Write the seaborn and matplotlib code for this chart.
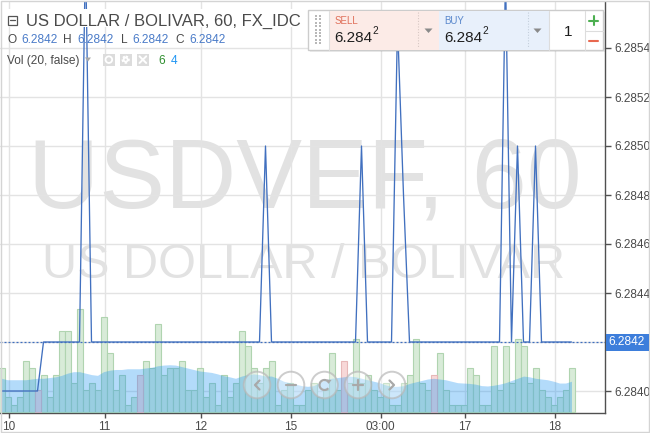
import matplotlib
matplotlib.use("Agg")
import matplotlib.pyplot as plt
import numpy as np
import pandas as pd
import seaborn as sns
from matplotlib.patches import Rectangle, Circle, Polygon, Arc

# ---------------- data ----------------
bar_index = list(range(96))

close = [
    6.2840, 6.2840, 6.2840, 6.2840, 6.2840, 6.2840, 6.2840, 6.2842, 6.2842, 6.2842, 6.2842, 6.2842,
    6.2842, 6.2842, 6.2858, 6.2842, 6.2842, 6.2842, 6.2842, 6.2842, 6.2842, 6.2842, 6.2842, 6.2842,
    6.2842, 6.2842, 6.2842, 6.2842, 6.2842, 6.2842, 6.2842, 6.2842, 6.2842, 6.2842, 6.2842, 6.2842,
    6.2842, 6.2842, 6.2842, 6.2842, 6.2842, 6.2842, 6.2842, 6.2842, 6.2850, 6.2842, 6.2842, 6.2842,
    6.2842, 6.2842, 6.2842, 6.2842, 6.2842, 6.2842, 6.2842, 6.2842, 6.2842, 6.2842, 6.2842, 6.2842,
    6.2850, 6.2842, 6.2842, 6.2842, 6.2842, 6.2842, 6.2855, 6.2848, 6.2842, 6.2842, 6.2842, 6.2842,
    6.2842, 6.2842, 6.2842, 6.2842, 6.2842, 6.2842, 6.2842, 6.2842, 6.2842, 6.2842, 6.2842, 6.2842,
    6.2857, 6.2842, 6.2850, 6.2842, 6.2842, 6.2850, 6.2842, 6.2842, 6.2842, 6.2842, 6.2842, 6.2842,
]

volume = [
    6, 2, 1, 2, 7, 6, 3, 5, 2, 5, 11, 11,
    4, 14, 3, 4, 3, 13, 8, 3, 5, 1, 2, 5,
    7, 6, 12, 5, 6, 6, 7, 3, 3, 6, 2, 4,
    1, 5, 2, 4, 11, 9, 6, 4, 6, 7, 1, 3,
    4, 1, 1, 3, 4, 2, 3, 8, 3, 7, 4, 10,
    4, 5, 3, 2, 4, 1, 1, 4, 5, 10, 4, 3,
    5, 8, 3, 1, 1, 1, 6, 5, 1, 1, 9, 3,
    9, 4, 10, 9, 4, 6, 3, 2, 1, 2, 3, 6,
]
down_bars = [6, 23, 57, 72]

vol_ma = [
    4.6, 4.4, 4.4, 4.4, 4.4, 4.5, 4.6, 4.6, 4.7, 4.8, 5.0, 5.3,
    5.5, 5.5, 5.3, 5.1, 5.0, 5.5, 5.7, 5.8, 5.8, 5.9, 5.9, 5.9,
    6.0, 6.1, 6.3, 6.4, 6.45, 6.4, 6.2, 6.0, 5.8, 5.6, 5.5, 5.4,
    5.2, 4.95, 4.8, 4.6, 4.9, 5.1, 5.2, 5.1, 4.9, 4.9, 4.6, 4.2,
    4.0, 3.8, 3.6, 3.5, 3.6, 4.0, 4.4, 4.6, 4.7, 4.8, 4.9, 4.8,
    4.6, 4.4, 4.2, 4.0, 3.7, 3.5, 3.5, 3.6, 3.9, 4.1, 4.3, 4.5,
    4.6, 4.5, 4.4, 4.2, 4.0, 3.95, 3.9, 3.8, 3.6, 3.55, 3.65, 3.8,
    4.0, 4.3, 4.6, 4.9, 4.8, 4.6, 4.5, 4.4, 4.2, 3.95, 3.95, 4.2,
]

x_tick_pos = [1, 17, 33, 48, 63, 77, 92]
x_tick_labels = ["10", "11", "12", "15", "03:00", "17", "18"]
y_ticks = [6.2840, 6.2842, 6.2844, 6.2846, 6.2848, 6.2850, 6.2852, 6.2854]
last_price = 6.2842
last_volume = 6
last_vol_ma = 4
symbol_title = "US DOLLAR / BOLIVAR, 60, FX_IDC"
watermark_1 = "USDVEF, 60"
watermark_2 = "US DOLLAR / BOLIVAR"
sell_price = "6.284"
buy_price = "6.284"
pip_digit = "2"
quantity = "1"

# ---------------- style ----------------
sns.set_theme(style="white")
plt.rcParams["font.family"] = ["Liberation Sans", "DejaVu Sans"]

W, H = 650, 433
fig = plt.figure(figsize=(W / 100, H / 100), dpi=100)
fig.patch.set_facecolor("white")


def fig_rect(x0, y0, x1, y1):
    return [x0 / W, 1 - y1 / H, (x1 - x0) / W, (y1 - y0) / H]


plot_rect = fig_rect(0, 2, 605, 413)
XL = ((0 - 1.5) / 6, (605 - 1.5) / 6)
YL = (6.2842 - 71 / 245000, 6.2842 + 340 / 245000)
AXC = "#505050"
TXT = "#4a4a4a"

# ---------- background axes: grid, ticks, watermark ----------
ax = fig.add_axes(plot_rect)
ax.set_facecolor("white")
ax.set_xlim(XL)
ax.set_ylim(YL)
ax.set_xticks([p + 1 / 6 for p in x_tick_pos])
ax.set_xticklabels(x_tick_labels)
ax.set_yticks(y_ticks)
# the last-price tick is labelled by the blue price box instead
ax.set_yticklabels(["" if abs(v - last_price) < 1e-9 else f"{v:.4f}" for v in y_ticks])
ax.yaxis.tick_right()
ax.grid(True, color="#e3e3e3", lw=1)
ax.set_axisbelow(True)
for s in ["left", "top"]:
    ax.spines[s].set_visible(False)
for s in ["right", "bottom"]:
    ax.spines[s].set_color(AXC)
    ax.spines[s].set_linewidth(1)
ax.tick_params(axis="y", right=True, left=False, length=4, width=1, color=AXC,
               labelsize=8.5, labelcolor=TXT, pad=2.5)
ax.tick_params(axis="x", bottom=True, length=3.5, width=1, color=AXC,
               labelsize=8.5, labelcolor=TXT, pad=2)

ax.text(305 / W, 1 - 208 / H, watermark_1, transform=fig.transFigure, ha="center",
        va="baseline", fontsize=71, color="#e2e2e2", zorder=0)
ax.text(304 / W, 1 - 278 / H, watermark_2, transform=fig.transFigure, ha="center",
        va="baseline", fontsize=35, color="#e2e2e2", zorder=0)

# ---------- volume axes ----------
axv = fig.add_axes(plot_rect)
axv.patch.set_alpha(0)
df = pd.DataFrame({
    "bar": bar_index,
    "volume": volume,
    "dir": ["down" if i in down_bars else "up" for i in bar_index],
})
sns.barplot(data=df, x="bar", y="volume", hue="dir",
            palette={"up": "#d8ebd8", "down": "#f7d8d8"},
            native_scale=True, dodge=False, width=1.0, saturation=1,
            errorbar=None, legend=False, linewidth=0.8, edgecolor="#b3d6b3",
            ax=axv, zorder=2)
for p in axv.patches:
    r, g, b, a = p.get_facecolor()
    p.set_edgecolor("#e6b8b8" if r > g else "#b0d4b0")
axv.fill_between(bar_index, 0, vol_ma, color="#2196f3", alpha=0.34, lw=0, zorder=3)
axv.set_xlim(XL)
axv.set_ylim(-1 / 7.33, 410 / 7.33)
axv.axis("off")

# ---------- price line axes ----------
axl = fig.add_axes(plot_rect)
axl.patch.set_alpha(0)
axl.axhline(last_price, color="#3f6fbf", lw=0.9, ls=(0, (1.6, 1.6)), zorder=1)
sns.lineplot(x=bar_index, y=close, ax=axl, color="#4170bf", lw=0.95, zorder=2)
axl.set_xlim(XL)
axl.set_ylim(YL)
axl.axis("off")

# ---------- overlay (pixel coordinates) ----------
ov = fig.add_axes([0, 0, 1, 1])
ov.set_xlim(0, W)
ov.set_ylim(H, 0)
ov.axis("off")


def t(x, y, s, size=8.6, color=TXT, ha="left", va="baseline", **kw):
    ov.text(x, y, s, fontsize=size, color=color, ha=ha, va=va, **kw)


# frame of the whole widget
ov.add_patch(Rectangle((0.5, 0.8), 648, 431, fill=False, ec="#d4d4d4", lw=1))

# legend title row
ov.add_patch(Rectangle((4, 9), 305, 18, fc="white", ec="none"))
ov.add_patch(Rectangle((7.5, 15.5), 9.5, 9.5, fill=False, ec="#555555", lw=0.9))
ov.plot([10, 14.5], [20.25, 20.25], color="#555555", lw=0.9)
t(26, 26, symbol_title, size=12)

# OHLC row
blue_val = "#4a7bc8"
for s, x, c in [("O", 7, TXT), (f"{last_price:.4f}", 21, blue_val),
                ("H", 63, TXT), (f"{last_price:.4f}", 77.5, blue_val),
                ("L", 120.5, TXT), (f"{last_price:.4f}", 132.7, blue_val),
                ("C", 175.7, TXT), (f"{last_price:.4f}", 189.5, blue_val)]:
    t(x, 43.3, s, color=c)

# volume legend row
t(7, 64, "Vol (20, false)")
ov.add_patch(Polygon([(85, 57.5), (91, 57.5), (88, 61.5)], closed=True, fc="#a8a8a8", ec="none"))
for x0 in [102.7, 119.5, 136.7]:
    ov.add_patch(Rectangle((x0, 53.5), 12.3, 12.3, fc="#dcdcdc", ec="none"))
ov.add_patch(Circle((108.85, 59.65), 3.3, fill=False, ec="white", lw=1.3))
ov.add_patch(Circle((125.65, 59.65), 3.0, fc="white", ec="white", lw=1.6, ls=(0, (1, 0.8))))
ov.add_patch(Circle((125.65, 59.65), 1.1, fc="#dcdcdc", ec="none"))
ov.plot([139.5, 146.2], [56.3, 63.0], color="white", lw=1.4)
ov.plot([139.5, 146.2], [63.0, 56.3], color="white", lw=1.4)
t(158.7, 64, str(last_volume), color="#2f8f2f")
t(170.7, 64, str(last_vol_ma), color="#2196f3")

# trading toolbar
ov.add_patch(Rectangle((309.5, 11.5), 295, 40.5, fc="black", alpha=0.07, ec="none"))
ov.add_patch(Rectangle((308.3, 10), 295, 40, fc="white", ec="#cccccc", lw=1))
for xx in [315.5, 319.5]:
    ov.scatter([xx] * 9, np.arange(16, 44, 3.4), s=1.6, marker="s", color="#b8b8b8", lw=0)
ov.add_patch(Rectangle((329, 10.5), 110, 39, fc="#fcebe7", ec="none"))
ov.add_patch(Rectangle((439, 10.5), 110, 39, fc="#e8f0fb", ec="none"))
ov.plot([329, 329], [10.5, 49.5], color="#e0e0e0", lw=0.8)
ov.plot([418, 418], [12, 48], color="#d8c8c4", lw=0.8, ls=(0, (1, 1.5)))
ov.plot([528, 528], [12, 48], color="#c4cfdc", lw=0.8, ls=(0, (1, 1.5)))
ov.add_patch(Polygon([(424.5, 28.5), (432.5, 28.5), (428.5, 33)], closed=True, fc="#8a8a8a", ec="none"))
ov.add_patch(Polygon([(533.5, 28.5), (541.5, 28.5), (537.5, 33)], closed=True, fc="#8a8a8a", ec="none"))
t(335, 24.5, "SELL", size=7, color="#e0705a")
t(444, 24.5, "BUY", size=7, color="#5a88cc")
t(334, 41.7, sell_price, size=11, color="#1e1e1e")
t(372, 34.5, pip_digit, size=7.3, color="#1e1e1e")
t(444, 41.7, buy_price, size=11, color="#1e1e1e")
t(482, 34.5, pip_digit, size=7.3, color="#1e1e1e")
ov.plot([549, 549], [10.5, 49.5], color="#dddddd", lw=0.8)
ov.plot([585, 585], [10.5, 49.5], color="#dddddd", lw=0.8)
ov.plot([585, 603.3], [30.5, 30.5], color="#dddddd", lw=0.8)
t(568.5, 36.5, quantity, size=11, color="#1e1e1e", ha="center")
ov.plot([589, 598], [20.5, 20.5], color="#4caf50", lw=1.5)
ov.plot([593.5, 593.5], [16, 25], color="#4caf50", lw=1.5)
ov.plot([589, 598], [40.5, 40.5], color="#e8684f", lw=1.5)

# chart navigation buttons
icon_c = "#a9a9a9"
for cx in [257, 291, 324.5, 358, 392]:
    ov.add_patch(Circle((cx, 385), 13.3, fc=(1, 1, 1, 0.35), ec=(0.72, 0.72, 0.72, 0.7), lw=1.4))
ov.plot([259.5, 255, 259.5], [380.5, 385, 389.5], color=icon_c, lw=1.6)
ov.plot([286, 296], [385, 385], color=icon_c, lw=1.6)
ov.add_patch(Arc((324.5, 385), 10, 10, theta1=40, theta2=330, color=icon_c, lw=1.6))
ov.add_patch(Polygon([(327, 379.5), (331.5, 380), (328.5, 384)], closed=True, fc=icon_c, ec="none"))
ov.plot([353, 363], [385, 385], color=icon_c, lw=1.6)
ov.plot([358, 358], [380, 390], color=icon_c, lw=1.6)
ov.plot([389.5, 394, 389.5], [380.5, 385, 389.5], color=icon_c, lw=1.6)

# last price label on the price scale
ov.add_patch(Rectangle((605.5, 333.5), 43, 17, fc="#3d7edb", ec="none"))
t(627, 342.3, f"{last_price:.4f}", size=8.6, color="white", ha="center", va="center")

fig.savefig("out.png", dpi=100, facecolor="white")
